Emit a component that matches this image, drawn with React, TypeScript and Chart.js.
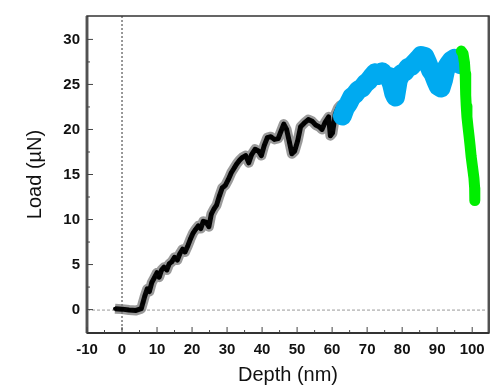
import React, { useEffect, useRef } from "react";
import { Chart, registerables } from "chart.js";

Chart.register(...registerables);

// Loading segment (black)
const blackX = [-2, 0, 2, 4, 5.5, 6, 6.5, 7.2, 7.8, 8.5, 9.2, 10, 10.6, 11.3, 12, 12.8, 13.5, 14.2, 15, 15.8, 16.5, 17.3, 18, 18.8, 19.5, 20.3, 21, 21.8, 22.5, 23.2, 24, 24.8, 25.5, 26.3, 27, 27.8, 28.6, 29.5, 30.3, 31.2, 32, 32.8, 33.6, 34.4, 35.3, 36.2, 37, 38, 39, 39.8, 40.6, 41.5, 42.5, 43.5, 44.6, 45.4, 46.2, 47, 47.8, 48.5, 49.3, 50.2, 51, 52, 53.2, 54.3, 55.3, 56.3, 57.1, 58, 59, 59.5, 60.1, 60.9, 61.7, 62.4, 63.2];
const blackY = [0.1, 0.05, -0.05, -0.1, 0.1, 0.8, 1.5, 2.3, 2.0, 3.0, 3.5, 4.1, 3.6, 4.4, 4.7, 4.4, 5.1, 5.3, 5.8, 5.5, 6.2, 6.7, 6.4, 7.1, 7.8, 8.5, 8.9, 9.3, 9.0, 9.8, 9.7, 9.2, 10.6, 11.2, 11.6, 12.6, 13.5, 13.8, 14.4, 15.2, 15.7, 16.2, 16.6, 16.9, 17.1, 16.3, 17.2, 17.8, 17.6, 17.1, 18.2, 19.1, 19.2, 18.9, 19.0, 19.8, 20.6, 20.0, 18.6, 17.3, 17.6, 18.8, 20.3, 20.7, 21.1, 20.9, 20.5, 20.3, 20.0, 20.8, 21.4, 19.3, 19.6, 21.7, 22.4, 22.7, 21.6];

// Plateau segment (blue)
const blueX = [62.9, 63.8, 64.7, 65.6, 66.5, 67.5, 68.5, 69.5, 70.4, 71.2, 72.3, 73.3, 74.3, 75.2, 76.2, 77, 77.6, 78.1, 78.9, 79.8, 80.8, 81.7, 82.6, 83.5, 84.5, 85.4, 86.5, 87.3, 88.1, 88.8, 89.6, 90.3, 91.1, 91.8, 92.5, 93.3, 94.1, 95, 95.9, 96.6];
const blueY = [21.5, 22.4, 22.9, 23.6, 23.9, 24.4, 24.6, 25.1, 25.4, 25.8, 26.3, 26.0, 26.4, 26.0, 25.9, 25.0, 24.0, 23.6, 25.5, 26.2, 26.4, 26.9, 27.0, 27.4, 27.8, 28.2, 28.1, 27.4, 26.6, 26.2, 25.4, 24.8, 24.6, 25.5, 26.8, 27.3, 27.7, 27.9, 27.8, 27.2];

// Unloading segment (green)
const greenX = [96.9, 97.4, 97.8, 98.0, 98.1, 98.2, 98.3, 98.5, 98.8, 99.1, 99.4, 99.7, 100.1, 100.5, 100.7, 100.8, 100.7];
const greenY = [28.7, 28.4, 27.4, 26.2, 25.0, 23.8, 22.6, 21.4, 20.3, 19.3, 18.2, 17.0, 15.8, 14.6, 13.5, 12.6, 12.1];

const xTicks = [-10, 0, 10, 20, 30, 40, 50, 60, 70, 80, 90, 100];
const yTicks = [0, 5, 10, 15, 20, 25, 30];

const FONT = "'Liberation Sans', Arial, Helvetica, sans-serif";

const pts = (xs: number[], ys: number[]) => xs.map((x, i) => ({ x, y: ys[i] }));

const framePlugin = {
  id: "framePlugin",
  beforeDatasetsDraw(chart: any) {
    const { ctx, chartArea: a, scales } = chart;
    const x0 = scales.x.getPixelForValue(0);
    const y0 = scales.y.getPixelForValue(0);
    ctx.save();
    ctx.strokeStyle = "#9a9a9a";
    ctx.lineWidth = 1;
    ctx.setLineDash([3, 2]);
    ctx.beginPath();
    ctx.moveTo(a.left, y0 + 0.5);
    ctx.lineTo(a.right, y0 + 0.5);
    ctx.stroke();
    ctx.strokeStyle = "#777";
    ctx.lineWidth = 1.5;
    ctx.setLineDash([2, 2]);
    ctx.beginPath();
    ctx.moveTo(x0, a.top);
    ctx.lineTo(x0, a.bottom);
    ctx.stroke();
    ctx.restore();
  },
  afterDraw(chart: any) {
    const { ctx, chartArea: a, scales } = chart;
    ctx.save();
    ctx.fillStyle = "#b0b0b0";
    ctx.fillRect(a.left - 2, a.top, 4, a.bottom - a.top);
    ctx.fillRect(a.right - 2, a.top, 3, a.bottom - a.top);
    ctx.strokeStyle = "#333";
    ctx.lineWidth = 1.5;
    ctx.setLineDash([]);
    ctx.strokeRect(a.left, a.top, a.right - a.left, a.bottom - a.top);
    ctx.lineWidth = 2;
    ctx.beginPath();
    ctx.moveTo(a.left, a.bottom);
    ctx.lineTo(a.right, a.bottom);
    ctx.stroke();
    ctx.strokeStyle = "#444";
    ctx.lineWidth = 1;
    const xs = scales.x;
    xs.ticks.forEach((t: any) => {
      const major = xs.getPixelForValue(t.value);
      const minor = xs.getPixelForValue(t.value + 5);
      ctx.beginPath();
      ctx.moveTo(major, a.bottom);
      ctx.lineTo(major, a.bottom - 6);
      if (minor < a.right - 2) {
        ctx.moveTo(minor, a.bottom);
        ctx.lineTo(minor, a.bottom - 3);
      }
      ctx.stroke();
    });
    const ys = scales.y;
    ys.ticks.forEach((t: any) => {
      const major = ys.getPixelForValue(t.value);
      const minor = ys.getPixelForValue(t.value + 2.5);
      ctx.beginPath();
      ctx.moveTo(a.left, major);
      ctx.lineTo(a.left + 6, major);
      if (minor > a.top + 2) {
        ctx.moveTo(a.left, minor);
        ctx.lineTo(a.left + 3, minor);
      }
      ctx.stroke();
    });
    ctx.restore();
  },
};

export default function App() {
  const ref = useRef<HTMLCanvasElement>(null);
  useEffect(() => {
    document.body.style.margin = "0";
    const canvas = ref.current!;
    // Chart.js paints the first dataset last (on top)
    const chart = new Chart(canvas, {
      type: "scatter",
      data: {
        datasets: [
          {
            data: pts(greenX, greenY),
            showLine: true,
            borderColor: "#00ee00",
            borderWidth: 11,
            borderJoinStyle: "round",
            borderCapStyle: "round",
            pointRadius: 0,
            tension: 0,
          },
          {
            data: pts(blueX, blueY),
            showLine: true,
            borderColor: "#00aaf0",
            borderWidth: 19,
            borderJoinStyle: "round",
            borderCapStyle: "round",
            pointRadius: 0,
            tension: 0,
          },
          {
            data: pts(blackX, blackY),
            showLine: true,
            borderColor: "#050505",
            borderWidth: 5,
            borderJoinStyle: "round",
            pointRadius: 2,
            pointBackgroundColor: "#000",
            pointBorderWidth: 0,
            tension: 0,
          },
          {
            data: pts(blackX, blackY),
            showLine: true,
            borderColor: "rgba(120,120,120,0.75)",
            borderWidth: 10,
            borderJoinStyle: "round",
            pointRadius: 0,
            tension: 0,
          },
        ],
      },
      options: {
        responsive: false,
        animation: false,
        layout: { padding: { left: 0, right: 2, top: 6, bottom: 0 } },
        plugins: { legend: { display: false }, tooltip: { enabled: false } },
        scales: {
          x: {
            type: "linear",
            min: -10,
            max: 104.8,
            afterFit: (s: any) => { s.height = 57; },
            afterBuildTicks: (s: any) => { s.ticks = xTicks.map((v) => ({ value: v })); },
            grid: { display: false, drawTicks: false },
            border: { display: false },
            ticks: {
              padding: 8,
              color: "#111",
              font: { family: FONT, size: 15, weight: "bold" },
              maxRotation: 0,
            },
            title: {
              display: true,
              text: "Depth (nm)",
              color: "#111",
              font: { family: FONT, size: 20 },
              padding: { top: 0, bottom: 3 },
            },
          },
          y: {
            type: "linear",
            min: -2.6,
            max: 32.6,
            afterFit: (s: any) => { s.width = 87; },
            afterBuildTicks: (s: any) => { s.ticks = yTicks.map((v) => ({ value: v })); },
            grid: { display: false, drawTicks: false },
            border: { display: false },
            ticks: {
              padding: 7,
              color: "#111",
              font: { family: FONT, size: 15, weight: "bold" },
            },
            title: {
              display: true,
              text: "Load (µN)",
              color: "#111",
              font: { family: FONT, size: 20 },
              padding: { top: 23, bottom: 0 },
            },
          },
        },
      },
      plugins: [framePlugin],
    });
    return () => chart.destroy();
  }, []);
  return (
    <div style={{ width: 493, height: 390 }}>
      <canvas ref={ref} width={493} height={390} />
    </div>
  );
}
